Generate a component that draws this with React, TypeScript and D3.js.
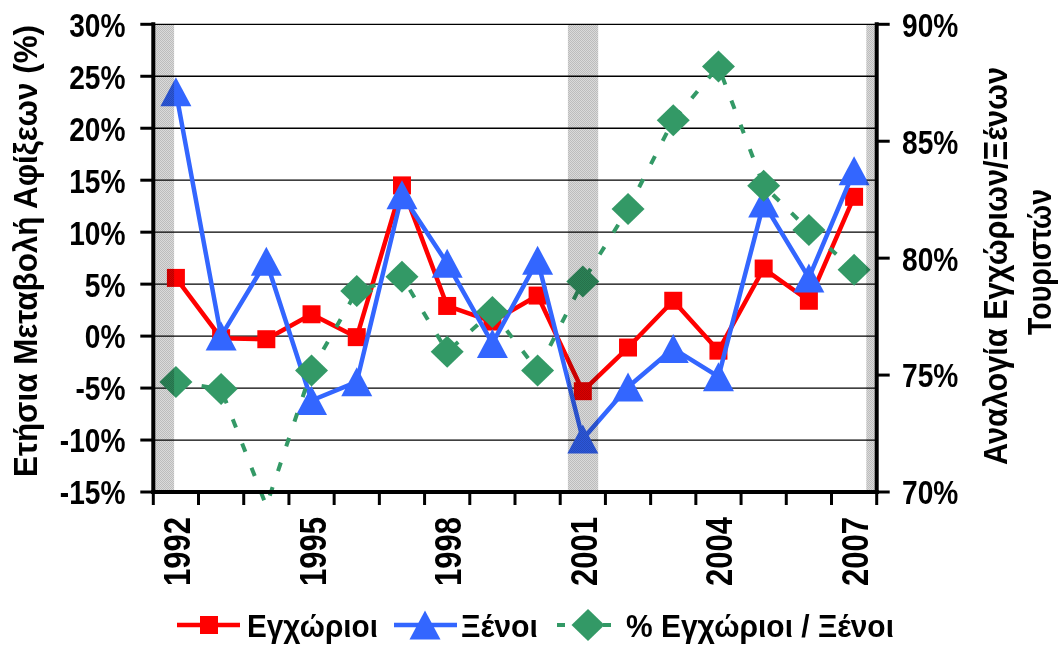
import * as d3 from 'd3';

// Έτη και σειρές δεδομένων
const years = ['1992', '1993', '1994', '1995', '1996', '1997', '1998', '1999', '2000', '2001', '2002', '2003', '2004', '2005', '2006', '2007'];
const domestic = [5.6, -0.2, -0.3, 2.1, -0.1, 14.5, 2.9, 1.4, 3.9, -5.3, -1.1, 3.4, -1.4, 6.5, 3.4, 13.4];
const foreign = [23.5, 0.0, 7.2, -6.2, -4.4, 13.6, 7.0, -0.7, 7.3, -9.9, -4.9, -1.2, -3.9, 12.8, 5.6, 15.9];
const ratio = [74.7, 74.4, 69.4, 75.2, 78.6, 79.2, 76.0, 77.7, 75.2, 79.0, 82.1, 85.9, 88.2, 83.1, 81.2, 79.5];

// Σκιασμένες περίοδοι (σε μονάδες έτους)
const shadeStart = [1991.5, 2000.67, 2007.27];
const shadeEnd = [1991.96, 2001.34, 2007.5];

const leftTicks = [-15, -10, -5, 0, 5, 10, 15, 20, 25, 30];
const rightTicks = [70, 75, 80, 85, 90];
const labelYears = ['1992', '1995', '1998', '2001', '2004', '2007'];

const W = 1059;
const H = 646;
const FONT = '"Liberation Sans", Arial, sans-serif';
const RED = '#FF0000';
const BLUE = '#3366FF';
const GREEN = '#339966';
const NARROW = 0.84; // στενή γραμματοσειρά (Arial Narrow)

const plot = { left: 153.3, right: 876.7, top: 24.3, bottom: 492 };

const square = (s: number) => `M${-s / 2},${-s / 2}h${s}v${s}h${-s}Z`;
const triangle = (w: number, h: number) => `M0,${-h / 2}L${w / 2},${h / 2}L${-w / 2},${h / 2}Z`;
const diamond = (w: number, h: number) => `M0,${-h / 2}L${w / 2},0L0,${h / 2}L${-w / 2},0Z`;

export default function App() {
  const x = d3.scaleBand<string>().domain(years).range([plot.left, plot.right]).padding(0);
  const cx = (y: string) => (x(y) as number) + x.bandwidth() / 2;
  const xYear = d3.scaleLinear().domain([1992, 2007]).range([cx('1992'), cx('2007')]);
  const yL = d3.scaleLinear().domain([-15, 30]).range([plot.bottom, plot.top]);
  const yR = d3.scaleLinear().domain([70, 90]).range([plot.bottom, plot.top]);

  const lineL = d3.line<number>().x((_, i) => cx(years[i])).y(d => yL(d));
  const lineR = d3.line<number>().x((_, i) => cx(years[i])).y(d => yR(d));

  const xTicks = [...years.map(y => x(y) as number), plot.right];

  const txt = { fontFamily: FONT, fontWeight: 'bold' as const };

  return (
    <div style={{ position: 'fixed', left: 0, top: 0 }}>
      <svg width={W} height={H} style={{ display: 'block', background: '#fff' }}>
        <defs>
          <pattern id="dots" width="2" height="2" patternUnits="userSpaceOnUse">
            <rect width="2" height="2" fill="#DADADA" />
            <rect width="1" height="1" fill="#BCBCBC" />
            <rect x="1" y="1" width="1" height="1" fill="#BCBCBC" />
          </pattern>
        </defs>

        {/* gridlines */}
        {leftTicks.filter(t => t > -15).map(t => (
          <line key={t} x1={plot.left} x2={plot.right} y1={yL(t)} y2={yL(t)} stroke="#000" strokeWidth={1.3} />
        ))}

        {/* Εγχώριοι */}
        <path d={lineL(domestic) || ''} fill="none" stroke={RED} strokeWidth={4.5} strokeLinejoin="round" />
        {domestic.map((d, i) => (
          <path key={i} d={square(18)} transform={`translate(${cx(years[i])},${yL(d)})`} fill={RED} />
        ))}

        {/* Ξένοι */}
        <path d={lineL(foreign) || ''} fill="none" stroke={BLUE} strokeWidth={4.5} strokeLinejoin="round" />
        {foreign.map((d, i) => (
          <path key={i} d={triangle(31, 29)} transform={`translate(${cx(years[i])},${yL(d)})`} fill={BLUE} />
        ))}

        {/* % Εγχώριοι / Ξένοι */}
        <path d={lineR(ratio) || ''} fill="none" stroke={GREEN} strokeWidth={4} strokeDasharray="9,17" />
        {ratio.map((d, i) => d >= 70 && d <= 90 ? (
          <path key={i} d={diamond(33, 32)} transform={`translate(${cx(years[i])},${yR(d)})`} fill={GREEN} />
        ) : null)}

        {/* shaded periods */}
        {shadeStart.map((s, i) => (
          <rect key={i} x={Math.max(plot.left, xYear(s))} y={plot.top}
            width={Math.min(plot.right, xYear(shadeEnd[i])) - Math.max(plot.left, xYear(s))}
            height={plot.bottom - plot.top} fill="url(#dots)" style={{ mixBlendMode: 'multiply' }} />
        ))}

        {/* axes */}
        <line x1={plot.left} x2={plot.left} y1={plot.top - 2} y2={plot.bottom + 2} stroke="#000" strokeWidth={4} />
        <line x1={plot.right} x2={plot.right} y1={plot.top - 2} y2={plot.bottom + 2} stroke="#000" strokeWidth={4} />
        <line x1={plot.left - 2} x2={plot.right + 2} y1={plot.bottom} y2={plot.bottom} stroke="#000" strokeWidth={4} />
        {leftTicks.map(t => (
          <g key={t}>
            <line x1={plot.left - 13} x2={plot.left} y1={yL(t)} y2={yL(t)} stroke="#000" strokeWidth={3} />
            <text transform={`translate(125.5,${yL(t) + 1}) scale(${NARROW},1)`} textAnchor="end" dominantBaseline="central"
              fontSize={33.5} style={txt}>{t}%</text>
          </g>
        ))}
        {rightTicks.map(t => (
          <g key={t}>
            <line x1={plot.right} x2={plot.right + 13} y1={yR(t)} y2={yR(t)} stroke="#000" strokeWidth={3} />
            <text transform={`translate(902,${yR(t) + 1}) scale(${NARROW},1)`} textAnchor="start" dominantBaseline="central"
              fontSize={33.5} style={txt}>{t}%</text>
          </g>
        ))}
        {xTicks.map((t, i) => (
          <line key={i} x1={t} x2={t} y1={plot.bottom} y2={plot.bottom + 13} stroke="#000" strokeWidth={3} />
        ))}
        {labelYears.map(y => (
          <text key={y} transform={`translate(${cx(y) + 14},517) rotate(-90) scale(${NARROW},1)`} textAnchor="end"
            fontSize={37} style={txt}>{y}</text>
        ))}

        {/* axis titles */}
        <text transform="translate(36.5,251) rotate(-90)" textAnchor="middle" fontSize={32.5}
          textLength={452} lengthAdjust="spacingAndGlyphs" style={txt}>
          Ετήσια Μεταβολή Αφίξεων (%)
        </text>
        <text transform="translate(1007,266) rotate(-90)" textAnchor="middle" fontSize={32.5}
          textLength={398} lengthAdjust="spacingAndGlyphs" style={txt}>
          Αναλογία Εγχώριων/Ξένων
        </text>
        <text transform="translate(1050.5,262) rotate(-90)" textAnchor="middle" fontSize={32.5}
          textLength={146} lengthAdjust="spacingAndGlyphs" style={txt}>
          Τουριστών
        </text>

        {/* legend */}
        <g transform="translate(0,625)">
          <line x1={177} x2={240} y1={0} y2={0} stroke={RED} strokeWidth={4.5} />
          <path d={square(18)} transform="translate(209,0)" fill={RED} />
          <text x={247} y={11.7} fontSize={31.7} textLength={131} lengthAdjust="spacingAndGlyphs" style={txt}>Εγχώριοι</text>

          <line x1={394} x2={457} y1={0} y2={0} stroke={BLUE} strokeWidth={4.5} />
          <path d={triangle(31, 29)} transform="translate(425,0)" fill={BLUE} />
          <text x={461} y={11.7} fontSize={31.7} textLength={77} lengthAdjust="spacingAndGlyphs" style={txt}>Ξένοι</text>

          <line x1={557} x2={619} y1={0} y2={0} stroke={GREEN} strokeWidth={4} strokeDasharray="8,15" />
          <path d={diamond(33, 32)} transform="translate(588,0)" fill={GREEN} />
          <text x={626} y={11.7} fontSize={31.7} textLength={268} lengthAdjust="spacingAndGlyphs" style={txt}>% Εγχώριοι / Ξένοι</text>
        </g>
      </svg>
    </div>
  );
}
